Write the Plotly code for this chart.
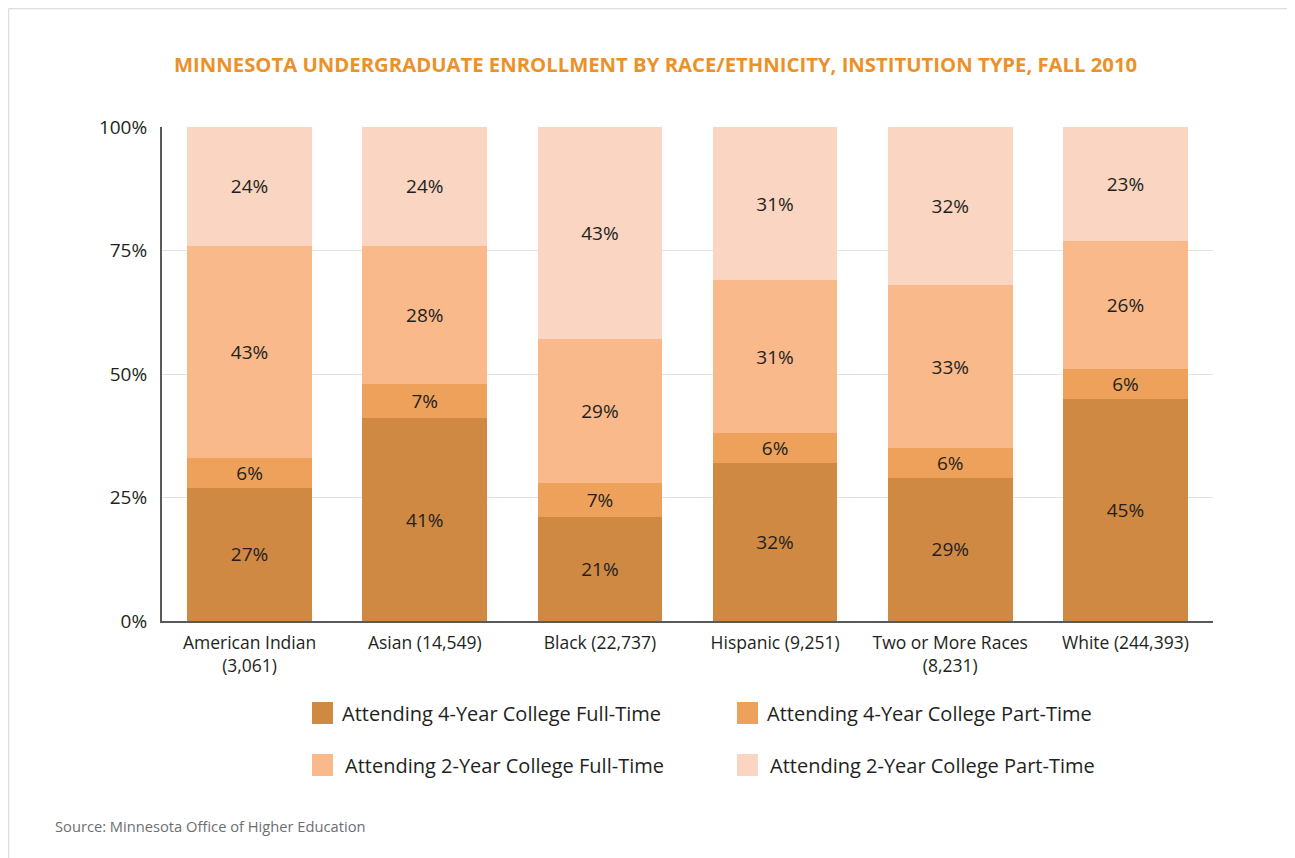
import plotly.graph_objects as go

categories = ["American Indian<br>(3,061)", "Asian (14,549)", "Black (22,737)",
              "Hispanic (9,251)", "Two or More Races<br>(8,231)", "White (244,393)"]
four_year_full = [27, 41, 21, 32, 29, 45]
four_year_part = [6, 7, 7, 6, 6, 6]
two_year_full = [43, 28, 29, 31, 33, 26]
two_year_part = [24, 24, 43, 31, 32, 23]

series_names = ["Attending 4-Year College Full-Time", "Attending 4-Year College Part-Time",
                "Attending 2-Year College Full-Time", "Attending 2-Year College Part-Time"]
series_values = [four_year_full, four_year_part, two_year_full, two_year_part]
colors = ["#D08943", "#EEA15A", "#F9B98A", "#FAD5C1"]

FONT = "Open Sans"
W, H = 1295, 858
OFF = 8  # page body margin
L, T = 162 - OFF, 127 - OFF
R = W - (1213 - OFF)
B = H - (621 - OFF)
PW = W - L - R
PH = H - T - B

fig = go.Figure()
for name, vals, col in zip(series_names, series_values, colors):
    fig.add_trace(go.Bar(
        x=categories, y=vals, name=name,
        marker=dict(color=col, line=dict(width=0)),
        text=[f"{v}%" for v in vals], textposition="inside",
        insidetextanchor="middle", textangle=0,
        textfont=dict(family=FONT, size=19, color="#231F20"),
        constraintext="none", showlegend=False,
    ))

fig.update_layout(
    width=W, height=H, barmode="stack", bargap=0.288,
    paper_bgcolor="white", plot_bgcolor="white",
    margin=dict(l=L, r=R, t=T, b=B, pad=0, autoexpand=False),
    font=dict(family=FONT, color="#231F20"),
    xaxis=dict(showline=True, linecolor="#58595B", linewidth=2, ticks="",
               ticklabelstandoff=5,
               tickfont=dict(size=17.5, color="#231F20"), range=[-0.5, 5.5]),
    yaxis=dict(range=[0, 100], tickvals=[0, 25, 50, 75, 100],
               ticktext=["0%", "25%", "50%", "75%", "100%"],
               showgrid=True, gridcolor="#E3E3E3", gridwidth=1,
               showline=True, linecolor="#58595B", linewidth=2,
               zeroline=False, ticks="", ticklabelstandoff=9,
               tickfont=dict(size=19, color="#231F20")),
)

def fx(p):
    return (p - OFF - L) / PW

def fy(p):
    return (H - B - (p - OFF)) / PH

shapes = []
annotations = []

# Title
annotations.append(dict(xref="paper", yref="paper", x=fx(655), y=fy(64),
                        text="<b>MINNESOTA UNDERGRADUATE ENROLLMENT BY RACE/ETHNICITY, INSTITUTION TYPE, FALL 2010</b>",
                        showarrow=False, xanchor="center", yanchor="middle",
                        font=dict(family=FONT, size=20.3, color="#EC9128")))

# Manual legend
legend_pos = [(312, 713, 340), (737, 713, 765), (312, 765, 343), (737, 765, 768)]
for (sx, sy, tx), name, col in zip(legend_pos, series_names, colors):
    shapes.append(dict(type="rect", xref="paper", yref="paper",
                       x0=fx(sx), x1=fx(sx + 21), y0=fy(sy + 11), y1=fy(sy - 11),
                       fillcolor=col, line=dict(width=0)))
    annotations.append(dict(xref="paper", yref="paper", x=fx(tx), y=fy(sy),
                            text=name, showarrow=False, xanchor="left", yanchor="middle",
                            font=dict(family=FONT, size=20, color="#231F20")))

# Source
annotations.append(dict(xref="paper", yref="paper", x=fx(53), y=fy(826),
                        text="Source: Minnesota Office of Higher Education", showarrow=False,
                        xanchor="left", yanchor="middle",
                        font=dict(family=FONT, size=14.7, color="#6D6E71")))

# Frame lines (top and left edge)
shapes.append(dict(type="line", xref="paper", yref="paper", x0=fx(8.5), x1=fx(1300),
                   y0=fy(8.5), y1=fy(8.5), line=dict(color="#DDDDDD", width=1.5)))
shapes.append(dict(type="line", xref="paper", yref="paper", x0=fx(8.5), x1=fx(8.5),
                   y0=fy(8.5), y1=fy(870), line=dict(color="#DDDDDD", width=1.5)))

fig.update_layout(shapes=shapes, annotations=annotations)
fig.write_html("out.html")
